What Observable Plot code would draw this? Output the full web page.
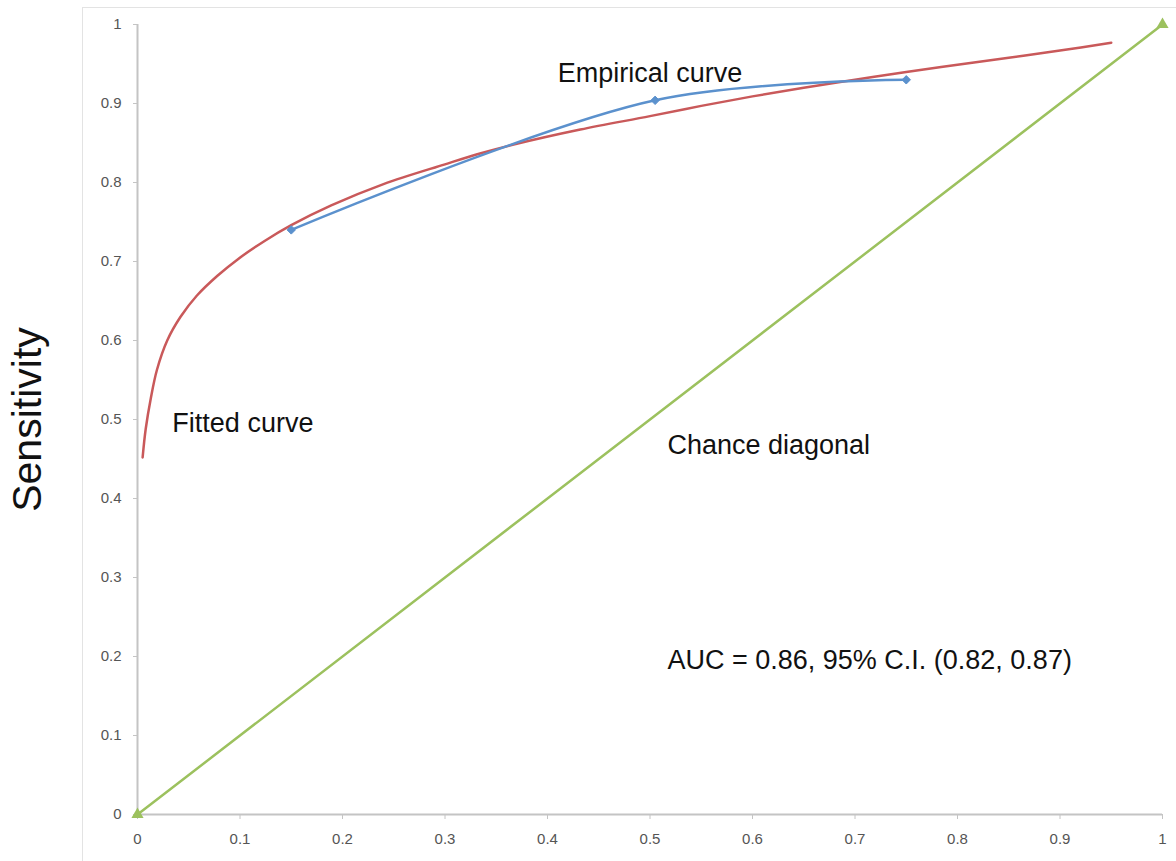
<!DOCTYPE html>
<html>
<head>
<meta charset="utf-8">
<script src="https://cdn.jsdelivr.net/npm/d3@7"></script>
<script src="https://cdn.jsdelivr.net/npm/@observablehq/plot@0.6"></script>
<style>
  html, body { margin: 0; padding: 0; background: #fff; overflow: hidden; }
  #wrap { position: relative; width: 1176px; height: 861px; }
  #frame { position: absolute; left: 82px; top: 7px; width: 2000px; height: 2000px;
           border-top: 1px solid #e3e3e3; border-left: 1px solid #e3e3e3; pointer-events: none; }
  #chart svg { display: block; background: transparent; }
</style>
</head>
<body>
<div id="wrap">
  <div id="chart"></div>
  <div id="frame"></div>
</div>
<script>
// Tick values
const xTicks = [0, 0.1, 0.2, 0.3, 0.4, 0.5, 0.6, 0.7, 0.8, 0.9, 1];
const yTicks = [0, 0.1, 0.2, 0.3, 0.4, 0.5, 0.6, 0.7, 0.8, 0.9, 1];
const yLabel = "Sensitivity";

// Fitted curve
const fittedFpr = [0.005, 0.008, 0.013, 0.019, 0.029, 0.042, 0.058, 0.078, 0.098, 0.124, 0.15, 0.189, 0.24, 0.3, 0.335, 0.367, 0.432, 0.5, 0.55, 0.6, 0.65, 0.7, 0.75, 0.8, 0.85, 0.9, 0.95];
const fittedTpr = [0.452, 0.488, 0.527, 0.563, 0.600, 0.630, 0.657, 0.682, 0.703, 0.726, 0.746, 0.771, 0.798, 0.823, 0.837, 0.848, 0.867, 0.884, 0.897, 0.909, 0.92, 0.93, 0.94, 0.949, 0.958, 0.967, 0.977];

// Empirical curve
const empiricalFpr = [0.15, 0.505, 0.75];
const empiricalTpr = [0.74, 0.904, 0.93];

// Chance diagonal
const diagonalFpr = [0, 1];
const diagonalTpr = [0, 1];

// Annotations
const noteText = ["Empirical curve", "Fitted curve", "Chance diagonal", "AUC = 0.86, 95% C.I. (0.82, 0.87)"];
const noteX = [0.41, 0.034, 0.517, 0.517];
const noteY = [0.938, 0.495, 0.467, 0.195];

const fitted = fittedFpr.map((x, i) => ({x, y: fittedTpr[i]}));
const empirical = empiricalFpr.map((x, i) => ({x, y: empiricalTpr[i]}));
const diagonal = diagonalFpr.map((x, i) => ({x, y: diagonalTpr[i]}));
const notes = noteText.map((t, i) => ({t, x: noteX[i], y: noteY[i]}));

const red = "#c9595a", blue = "#5b91cd", green = "#9cc15e", axisGray = "#c4c4c4";
const fmt = d => String(d);

const chart = Plot.plot({
  width: 1176,
  height: 861,
  marginLeft: 137,
  marginRight: 14,
  marginTop: 24,
  marginBottom: 47,
  x: {domain: [0, 1]},
  y: {domain: [0, 1]},
  style: {fontFamily: "'Liberation Sans', Arial, sans-serif", background: "transparent"},
  marks: [
    Plot.axisY({ticks: yTicks, tickFormat: fmt, tickSize: 4, tickPadding: 12, stroke: axisGray, fill: "#555", fontSize: 15, label: null}),
    Plot.axisX({ticks: xTicks, tickFormat: fmt, tickSize: 5, tickPadding: 14, stroke: axisGray, fill: "#555", fontSize: 15, label: null}),
    Plot.ruleX([0], {stroke: axisGray, strokeWidth: 2}),
    Plot.ruleY([0], {stroke: axisGray, strokeWidth: 2}),
    Plot.line(diagonal, {x: "x", y: "y", stroke: green, strokeWidth: 2.5}),
    Plot.dot(diagonal, {x: "x", y: "y", symbol: "triangle", r: 4.5, fill: green}),
    Plot.line(fitted, {x: "x", y: "y", stroke: red, strokeWidth: 2.5, curve: "catmull-rom"}),
    Plot.line(empirical, {x: "x", y: "y", stroke: blue, strokeWidth: 2.5, curve: "catmull-rom"}),
    Plot.dot(empirical, {x: "x", y: "y", symbol: "diamond2", r: 3.8, fill: blue, stroke: blue, strokeWidth: 1}),
    Plot.text(notes, {x: "x", y: "y", text: "t", textAnchor: "start", fontSize: 27, fill: "#111"}),
    Plot.text([yLabel], {frameAnchor: "left", textAnchor: "middle", dx: -110, rotate: -90, fontSize: 41, fill: "#111"})
  ]
});
document.getElementById("chart").appendChild(chart);
</script>
</body>
</html>
